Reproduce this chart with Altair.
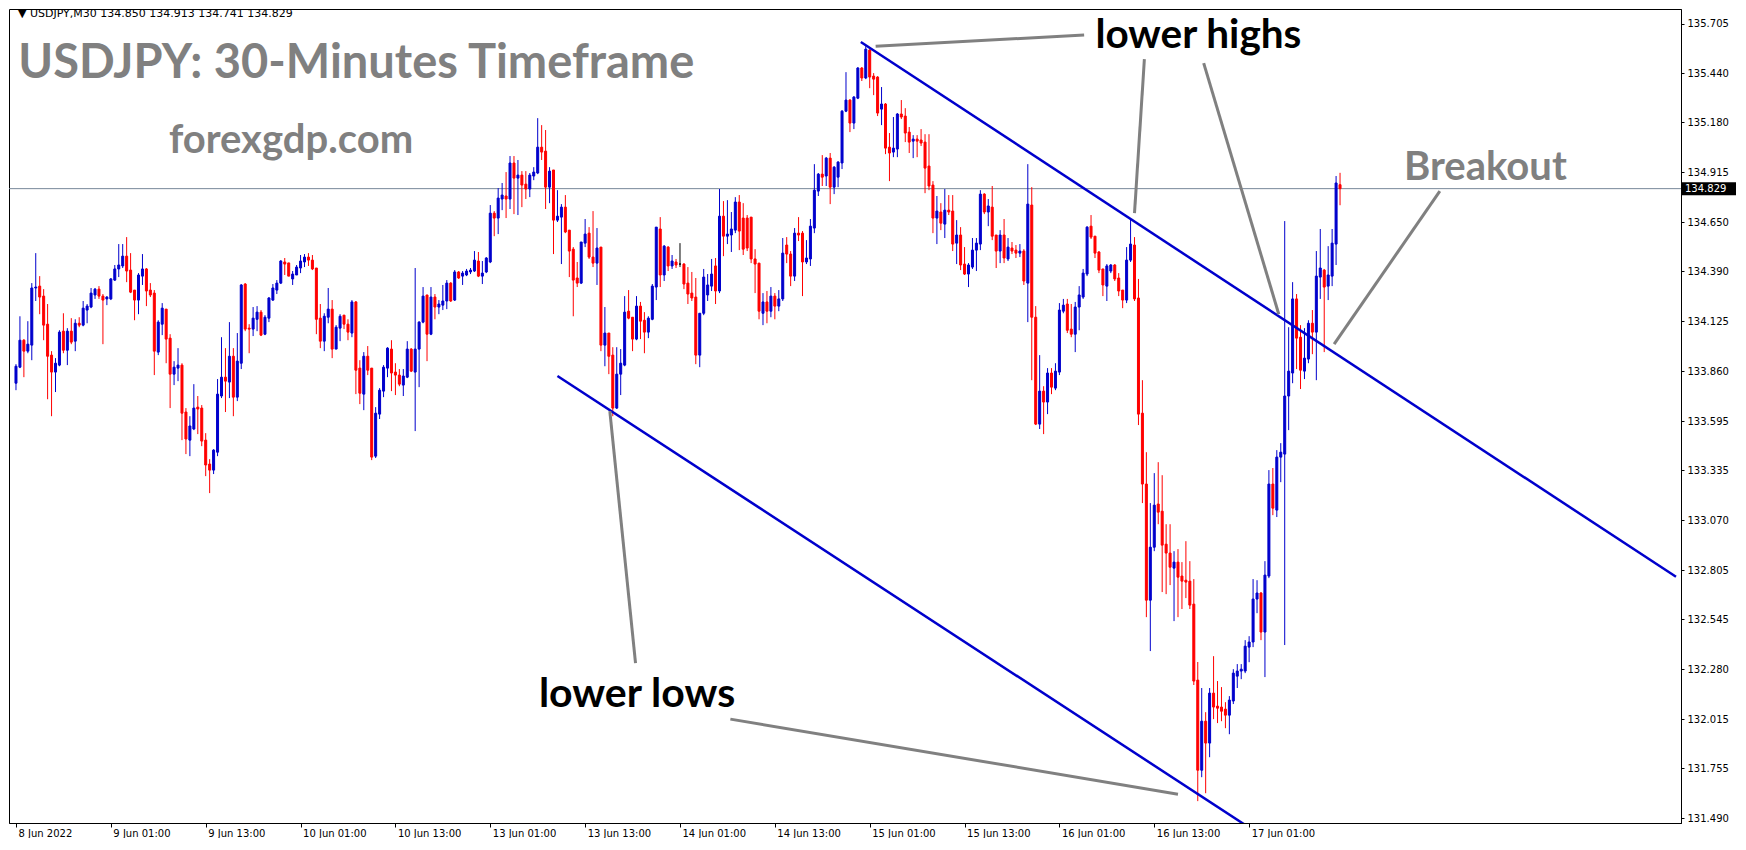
import altair as alt
import pandas as pd

# ---------------- candle data (USDJPY M30) ----------------
OPEN = [133.797,133.882,134.025,133.967,133.999,134.302,134.312,134.259,134.110,133.946,
133.856,133.893,134.073,133.972,134.073,134.020,134.115,134.105,134.185,134.201,
134.265,134.296,134.259,134.244,134.244,134.344,134.403,134.419,134.471,134.397,
134.291,134.238,134.365,134.403,134.291,134.275,133.962,134.110,134.190,134.036,
133.845,133.877,133.893,133.644,133.495,133.554,133.670,133.665,133.495,133.368,
133.336,133.431,133.729,133.829,133.803,133.940,133.723,133.903,134.323,134.089,
134.084,134.136,134.174,134.057,134.142,134.238,134.291,134.328,134.440,134.435,
134.350,134.371,134.408,134.440,134.466,134.450,134.408,134.142,134.020,134.147,
134.190,133.978,134.089,134.158,134.110,134.063,134.228,133.877,133.739,133.940,
133.877,133.410,133.633,133.755,133.877,133.978,133.856,133.840,133.787,133.829,
133.978,133.856,133.978,134.121,134.265,134.057,134.254,134.201,134.211,134.233,
134.328,134.238,134.387,134.365,134.371,134.387,134.392,134.445,134.365,134.387,
134.440,134.699,134.673,134.774,134.790,134.774,134.965,134.885,134.901,134.853,
134.827,134.896,134.912,135.049,135.028,134.837,134.928,134.662,134.678,134.731,
134.609,134.508,134.355,134.328,134.540,134.593,134.466,134.434,134.519,133.999,
134.063,133.946,133.665,133.845,133.893,134.179,134.147,134.031,134.206,134.131,
134.068,134.136,134.307,134.615,134.371,134.519,134.419,134.440,134.429,134.429,
134.328,134.275,134.254,133.946,134.168,134.265,134.312,134.419,134.286,134.683,
134.577,134.583,134.609,134.758,134.673,134.673,134.678,134.456,134.434,134.168,
134.228,134.179,134.259,134.206,134.244,134.530,134.482,134.365,134.593,134.593,
134.440,134.456,134.620,134.816,134.906,134.896,134.991,134.837,134.890,134.965,
135.240,135.299,135.177,135.309,135.469,135.416,135.564,135.426,135.421,135.251,
135.278,135.049,135.023,135.039,135.225,135.214,135.129,135.081,135.092,135.087,
135.076,134.949,134.848,134.673,134.705,134.641,134.715,134.710,134.540,134.583,
134.429,134.376,134.413,134.503,134.535,134.800,134.705,134.731,134.583,134.498,
134.583,134.456,134.514,134.503,134.487,134.498,134.328,134.742,134.147,133.580,
133.755,133.697,133.851,133.771,133.856,134.179,134.217,134.084,134.057,134.201,
134.254,134.376,134.630,134.577,134.493,134.403,134.312,134.392,134.424,134.355,
134.291,134.238,134.450,134.530,134.249,133.638,133.262,132.646,132.927,133.156,
133.118,132.943,132.896,132.816,132.848,132.774,132.752,132.747,132.625,132.222,
131.744,132.004,131.888,132.153,132.084,132.079,132.068,132.036,132.111,132.243,
132.270,132.270,132.397,132.424,132.652,132.684,132.477,132.774,133.262,133.124,
133.405,133.421,133.729,133.851,134.244,134.041,133.861,133.925,134.115,134.068,
134.360,134.397,134.312,134.365,134.535,134.850]

HIGH = [133.898,134.152,134.031,134.126,134.328,134.487,134.365,134.296,134.217,133.967,
133.930,134.078,134.168,134.089,134.142,134.136,134.147,134.233,134.217,134.302,
134.302,134.312,134.270,134.259,134.355,134.424,134.535,134.535,134.572,134.487,
134.291,134.381,134.482,134.408,134.328,134.291,134.131,134.222,134.190,134.057,
133.914,133.983,133.903,133.665,133.622,133.792,133.729,133.681,133.532,133.394,
133.447,133.819,134.041,133.983,134.121,133.983,134.063,134.323,134.328,134.110,
134.201,134.206,134.185,134.158,134.254,134.323,134.344,134.450,134.461,134.435,
134.392,134.424,134.477,134.482,134.487,134.477,134.408,134.217,134.168,134.302,
134.238,134.105,134.163,134.158,134.136,134.238,134.233,133.919,133.962,133.994,
133.877,133.670,133.771,133.893,133.988,134.025,133.903,133.872,133.872,134.020,
133.983,134.408,134.126,134.307,134.265,134.307,134.270,134.238,134.318,134.344,
134.333,134.397,134.392,134.392,134.403,134.408,134.498,134.493,134.445,134.466,
134.742,134.710,134.832,134.859,134.917,135.002,135.002,134.981,134.922,134.922,
134.912,134.943,135.203,135.166,135.140,134.943,134.928,134.821,134.747,134.795,
134.609,134.519,134.440,134.546,134.668,134.625,134.710,134.620,134.519,134.201,
134.063,133.988,133.988,133.978,134.259,134.291,134.147,134.259,134.228,134.174,
134.152,134.323,134.625,134.678,134.530,134.524,134.477,134.456,134.540,134.434,
134.413,134.387,134.355,134.168,134.403,134.376,134.456,134.461,134.827,134.763,
134.768,134.705,134.784,134.795,134.752,134.689,134.678,134.508,134.434,134.275,
134.286,134.307,134.275,134.291,134.567,134.572,134.498,134.620,134.678,134.604,
134.556,134.668,134.959,134.912,135.007,134.997,135.018,134.949,134.975,135.246,
135.447,135.304,135.320,135.474,135.474,135.585,135.569,135.442,135.426,135.368,
135.283,135.124,135.209,135.230,135.299,135.256,135.156,135.113,135.113,135.145,
135.118,135.118,134.869,134.790,134.752,134.827,134.795,134.795,134.662,134.625,
134.519,134.434,134.567,134.567,134.821,134.805,134.774,134.843,134.583,134.609,
134.668,134.567,134.546,134.530,134.535,134.508,134.959,134.837,134.206,133.946,
133.781,133.877,133.877,133.903,134.222,134.244,134.244,134.217,134.228,134.312,
134.403,134.630,134.689,134.577,134.498,134.403,134.429,134.429,134.429,134.381,
134.291,134.519,134.668,134.572,134.350,133.813,133.431,133.161,133.320,133.378,
133.309,133.049,133.049,132.906,132.917,132.848,132.959,132.853,132.758,132.318,
132.180,132.052,132.180,132.349,132.217,132.185,132.105,132.137,132.280,132.307,
132.307,132.434,132.455,132.758,132.752,132.689,132.853,133.336,133.347,133.442,
133.479,134.657,134.094,134.333,134.270,134.105,134.089,134.131,134.185,134.498,
134.615,134.403,134.524,134.615,134.896,134.913]

LOW = [133.760,133.877,133.829,133.956,133.919,134.233,134.163,134.025,133.712,133.622,
133.750,133.887,133.956,133.893,134.004,133.967,134.094,134.099,134.115,134.195,
134.244,134.244,134.004,134.211,134.238,134.339,134.360,134.408,134.333,134.275,
134.131,134.163,134.318,134.206,134.254,133.840,133.946,134.052,133.903,133.665,
133.787,133.808,133.495,133.421,133.410,133.548,133.527,133.463,133.304,133.214,
133.315,133.410,133.718,133.644,133.718,133.622,133.702,133.872,134.073,133.956,
134.047,134.073,134.047,134.052,134.121,134.233,134.270,134.323,134.371,134.365,
134.318,134.371,134.381,134.413,134.419,134.397,134.057,133.983,133.967,134.115,
133.930,133.978,134.020,134.084,134.025,134.041,133.739,133.686,133.654,133.840,
133.389,133.400,133.607,133.723,133.829,133.755,133.734,133.781,133.729,133.824,
133.856,133.543,133.776,134.115,133.914,134.052,134.136,134.163,134.185,134.190,
134.228,134.233,134.350,134.318,134.365,134.376,134.387,134.360,134.323,134.381,
134.434,134.577,134.588,134.715,134.673,134.721,134.694,134.689,134.731,134.774,
134.784,134.874,134.906,134.981,134.721,134.752,134.482,134.652,134.429,134.593,
134.360,134.152,134.307,134.323,134.519,134.456,134.413,134.318,133.967,133.887,
133.845,133.622,133.660,133.734,133.887,134.136,133.967,134.025,134.031,133.956,
134.036,134.131,134.238,134.307,134.339,134.392,134.403,134.408,134.413,134.296,
134.217,134.233,133.898,133.882,134.158,134.233,134.286,134.217,134.275,134.471,
134.535,134.493,134.593,134.503,134.477,134.498,134.434,134.275,134.136,134.105,
134.115,134.147,134.136,134.179,134.233,134.434,134.312,134.339,134.551,134.259,
134.429,134.419,134.593,134.790,134.843,134.843,134.747,134.800,134.837,134.933,
135.235,135.129,135.145,135.304,135.400,135.410,135.362,135.325,135.214,135.166,
135.012,134.869,134.996,134.996,135.198,135.076,135.018,134.991,134.996,135.055,
134.805,134.821,134.593,134.535,134.609,134.567,134.689,134.498,134.429,134.397,
134.371,134.307,134.403,134.392,134.503,134.694,134.630,134.556,134.408,134.434,
134.434,134.445,134.482,134.461,134.466,134.318,134.121,133.813,133.575,133.554,
133.527,133.633,133.739,133.760,133.840,134.168,134.063,134.041,133.962,134.078,
134.244,134.365,134.562,134.461,134.381,134.259,134.233,134.381,134.339,134.259,
134.195,134.222,134.440,134.233,133.575,133.161,132.556,132.376,132.906,133.049,
132.689,132.678,132.726,132.535,132.556,132.599,132.657,132.599,132.196,131.580,
131.707,131.622,131.813,132.015,131.994,132.004,131.967,131.935,132.095,132.180,
132.227,132.259,132.317,132.397,132.577,132.434,132.238,132.763,133.097,133.087,
133.272,132.408,133.548,133.797,133.872,133.766,133.819,133.903,133.951,133.813,
134.244,133.962,134.238,134.312,134.424,134.741]

CLOSE = [133.887,134.025,133.967,134.004,134.302,134.307,134.254,134.105,133.940,133.856,
133.903,134.068,133.972,134.073,134.015,134.115,134.105,134.195,134.206,134.275,
134.296,134.259,134.238,134.254,134.350,134.403,134.424,134.471,134.392,134.280,
134.238,134.371,134.403,134.286,134.265,133.967,134.121,134.195,134.031,133.845,
133.882,133.893,133.638,133.501,133.570,133.665,133.660,133.490,133.363,133.336,
133.442,133.739,133.829,133.808,133.940,133.723,133.914,134.318,134.084,134.084,
134.142,134.174,134.052,134.147,134.249,134.302,134.328,134.445,134.429,134.365,
134.376,134.413,134.445,134.466,134.450,134.403,134.136,134.020,134.152,134.190,
133.978,134.094,134.152,134.110,134.068,134.228,133.866,133.744,133.940,133.866,
133.405,133.638,133.760,133.882,133.983,133.851,133.840,133.792,133.835,133.978,
133.861,133.978,134.121,134.259,134.057,134.254,134.201,134.217,134.233,134.328,
134.233,134.387,134.355,134.381,134.392,134.397,134.450,134.365,134.381,134.461,
134.699,134.673,134.779,134.795,134.774,134.965,134.885,134.901,134.848,134.827,
134.901,134.917,135.049,135.023,134.837,134.922,134.662,134.683,134.731,134.599,
134.498,134.344,134.328,134.546,134.588,134.466,134.434,134.514,133.999,134.063,
133.940,133.665,133.845,133.903,134.174,134.142,134.031,134.206,134.126,134.068,
134.142,134.312,134.625,134.371,134.524,134.419,134.445,134.424,134.429,134.323,
134.270,134.249,133.946,134.168,134.360,134.318,134.376,134.286,134.683,134.577,
134.588,134.615,134.758,134.604,134.508,134.514,134.456,134.429,134.179,134.228,
134.179,134.259,134.206,134.244,134.487,134.482,134.365,134.593,134.583,134.440,
134.461,134.630,134.821,134.906,134.890,134.991,134.837,134.943,134.970,135.240,
135.299,135.177,135.315,135.469,135.416,135.569,135.421,135.410,135.230,135.278,
135.044,135.018,135.044,135.225,135.209,135.124,135.076,135.092,135.081,135.071,
134.938,134.843,134.673,134.710,134.646,134.715,134.705,134.535,134.583,134.424,
134.376,134.424,134.503,134.540,134.800,134.705,134.737,134.577,134.498,134.583,
134.461,134.519,134.498,134.487,134.498,134.339,134.747,134.147,133.580,133.755,
133.697,133.851,133.776,133.861,134.185,134.211,134.078,134.057,134.201,134.265,
134.381,134.625,134.572,134.487,134.397,134.318,134.419,134.424,134.350,134.286,
134.238,134.450,134.535,134.244,133.633,133.262,132.646,132.927,133.150,133.113,
132.938,132.896,132.821,132.848,132.768,132.747,132.742,132.620,132.217,131.744,
132.004,131.888,132.153,132.079,132.073,132.057,132.036,132.116,132.259,132.270,
132.280,132.402,132.424,132.652,132.684,132.477,132.779,133.262,133.134,133.405,
133.431,133.729,133.861,134.244,134.036,133.866,133.930,134.115,134.068,134.365,
134.408,134.307,134.371,134.540,134.859,134.829]

X_TICKS = [0, 24, 48, 72, 96, 120, 144, 168, 192, 216, 240, 264, 288, 312]
X_LABELS = ["8 Jun 2022", "9 Jun 01:00", "9 Jun 13:00", "10 Jun 01:00", "10 Jun 13:00",
            "13 Jun 01:00", "13 Jun 13:00", "14 Jun 01:00", "14 Jun 13:00", "15 Jun 01:00",
            "15 Jun 13:00", "16 Jun 01:00", "16 Jun 13:00", "17 Jun 01:00"]
PRICE_TICKS = [135.705, 135.440, 135.180, 134.915, 134.650, 134.390, 134.125, 133.860,
               133.595, 133.335, 133.070, 132.805, 132.545, 132.280, 132.015, 131.755, 131.490]
CURRENT = 134.829

# trend lines (bar index, price)
UP_I = [213.75, 420.0]
UP_P = [135.607, 132.770]
LO_I = [137.0, 312.0]
LO_P = [133.835, 131.440]

# grey pointer lines: (segment id, bar index, price)
PTR_SEG = ["a", "a", "b", "b", "c", "c", "d", "d", "e", "e", "f", "f"]
PTR_I = [217.5, 270.25, 285.5, 283.0, 300.5, 319.5, 333.5, 360.25, 150.25, 156.75, 180.75, 294.0]
PTR_P = [135.585, 135.644, 135.516, 134.699, 135.495, 134.163, 134.004, 134.816, 133.649, 132.312, 132.015, 131.617]

W, H = 1672, 814
XDOM = [-0.5, 420.0]
YDOM = [131.464, 135.782]
BLUE, RED = "#0000CC", "#FF0000"

n = len(OPEN)
candles = pd.DataFrame({"i": list(range(n)), "open": OPEN, "high": HIGH, "low": LOW, "close": CLOSE})
candles["dir"] = ["up" if c > o else ("down" if c < o else "flat") for o, c in zip(OPEN, CLOSE)]

label_js = "[" + ",".join("'%s'" % s for s in X_LABELS) + "][round(datum.value/24)]"
xscale = alt.Scale(domain=XDOM, nice=False, zero=False)
yscale = alt.Scale(domain=YDOM, nice=False, zero=False)
xaxis = alt.Axis(values=X_TICKS, labelExpr=label_js, labelAlign="left", labelBaseline="top",
                 labelOffset=2, labelPadding=1, tickSize=4, grid=False, labelOverlap=False,
                 labelFlush=False, labelBound=False, labelFont="DejaVu Sans", labelFontSize=10,
                 labelColor="black", domainColor="black", tickColor="black")
yaxis = alt.Axis(orient="right", values=PRICE_TICKS, format=".3f", labelAlign="left",
                 labelBaseline="middle", labelPadding=3, tickSize=3, grid=False,
                 labelOverlap=False, labelFlush=False, labelBound=False,
                 labelFont="DejaVu Sans", labelFontSize=10, labelColor="black",
                 domainColor="black", tickColor="black")


def X(field):
    return alt.X(field, scale=xscale, axis=xaxis, title=None)


def Y(field):
    return alt.Y(field, scale=yscale, axis=yaxis, title=None)


cscale = alt.Scale(domain=["up", "down", "flat"], range=[BLUE, RED, "#000000"])

wicks = alt.Chart(candles).mark_rule(strokeWidth=1).encode(
    x=X("i:Q"), y=Y("low:Q"), y2="high:Q",
    color=alt.Color("dir:N", scale=cscale, legend=None))
bodies = alt.Chart(candles).mark_bar(size=2, strokeWidth=1).encode(
    x=X("i:Q"), y=Y("open:Q"), y2="close:Q",
    fill=alt.Fill("dir:N", scale=cscale, legend=None),
    stroke=alt.Stroke("dir:N", scale=cscale, legend=None))

cur_df = pd.DataFrame({"p": [CURRENT], "t": ["%.3f" % CURRENT]})
cur_line = alt.Chart(cur_df).mark_rule(color="#778899", strokeWidth=1).encode(y=Y("p:Q"))
cur_box = alt.Chart(cur_df).mark_point(
    shape="M-1,-0.24L1,-0.24L1,0.24L-1,0.24Z", size=2916, filled=True, opacity=1,
    color="black").encode(x=alt.value(W + 28), y=Y("p:Q"))
cur_txt = alt.Chart(cur_df).mark_text(
    align="left", baseline="middle", font="DejaVu Sans", fontSize=10, color="white").encode(
    x=alt.value(W + 4), y=Y("p:Q"), text="t:N")

up_df = pd.DataFrame({"i": UP_I, "p": UP_P})
lo_df = pd.DataFrame({"i": LO_I, "p": LO_P})
trend_up = alt.Chart(up_df).mark_line(color=BLUE, strokeWidth=2.5, clip=True).encode(
    x=X("i:Q"), y=Y("p:Q"))
trend_lo = alt.Chart(lo_df).mark_line(color=BLUE, strokeWidth=2.5, clip=True).encode(
    x=X("i:Q"), y=Y("p:Q"))

ptr_df = pd.DataFrame({"seg": PTR_SEG, "i": PTR_I, "p": PTR_P})
pointers = alt.Chart(ptr_df).mark_line(color="#808080", strokeWidth=3).encode(
    x=X("i:Q"), y=Y("p:Q"), detail="seg:N")

header = alt.Chart(pd.DataFrame({"i": [0.5], "p": [135.755],
                                 "t": ["\u25BC USDJPY,M30  134.850 134.913 134.741 134.829"]})
                   ).mark_text(align="left", baseline="middle", font="DejaVu Sans", fontSize=11,
                               color="black").encode(x=X("i:Q"), y=Y("p:Q"), text="t:N")

title = alt.Chart(pd.DataFrame({"i": [0.6], "p": [135.416], "t": ["USDJPY: 30-Minutes Timeframe"]})
                  ).mark_text(align="left", baseline="alphabetic", font="Lato", fontWeight="bold",
                              fontSize=47, color="#808080").encode(x=X("i:Q"), y=Y("p:Q"), text="t:N")

grey_txt = alt.Chart(pd.DataFrame({"i": [38.7, 351.2], "p": [135.018, 134.874],
                                   "t": ["forexgdp.com", "Breakout"]})
                     ).mark_text(align="left", baseline="alphabetic", font="Lato", fontWeight="bold",
                                 fontSize=40, color="#808080").encode(x=X("i:Q"), y=Y("p:Q"), text="t:N")

hi_txt = alt.Chart(pd.DataFrame({"i": [273.1], "p": [135.577], "t": ["lower highs"]})
                   ).mark_text(align="left", baseline="alphabetic", font="Lato", fontWeight="bold",
                               fontSize=40.5, color="black").encode(x=X("i:Q"), y=Y("p:Q"), text="t:N")

lo_txt = alt.Chart(pd.DataFrame({"i": [132.3], "p": [132.077], "t": ["lower lows"]})
                   ).mark_text(align="left", baseline="alphabetic", font="Lato", fontWeight="bold",
                               fontSize=41, color="black").encode(x=X("i:Q"), y=Y("p:Q"), text="t:N")

chart = alt.layer(
    cur_line, wicks, bodies, trend_up, trend_lo, pointers, header, title, grey_txt, hi_txt,
    lo_txt, cur_box, cur_txt
).properties(width=W, height=H, padding=0, background="white").configure_view(
    stroke="black", strokeWidth=1)

chart.save("out.html", embed_options={"renderer": "svg", "actions": False})
